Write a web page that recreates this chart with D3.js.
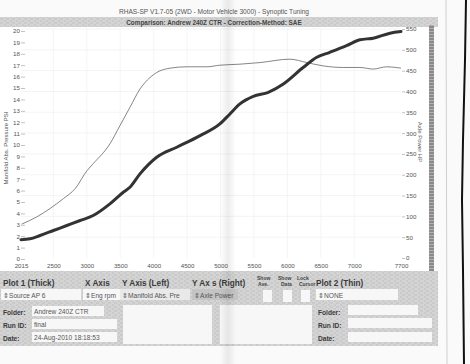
<!DOCTYPE html>
<html>
<head>
<meta charset="utf-8">
<script src="https://cdn.jsdelivr.net/npm/d3@7"></script>
<style>
  body { margin: 0; background: #fafafa; }
  svg { display: block; font-family: "Liberation Sans", Arial, sans-serif; }
</style>
</head>
<body>
<div id="chart"></div>
<script>
// Plot 2 line (thin) - manifold abs. pressure, left axis
const rpmThin = [2025, 2250, 2450, 2650, 2825, 3005, 3095, 3345, 3495, 3645, 3795, 3945, 4045, 4245, 4495, 4795, 4990, 5290, 5590, 6040, 6290, 6535, 6835, 7085, 7285, 7485, 7700];
const psiThin = [3.06, 3.69, 4.43, 5.30, 6.17, 7.77, 8.36, 10.10, 11.70, 13.30, 14.91, 15.92, 16.36, 16.74, 16.86, 16.86, 17.00, 17.09, 17.23, 17.53, 17.23, 16.94, 16.80, 16.80, 16.66, 16.86, 16.74];

// thick line - axle power, right axis
const rpmThick = [2015, 2150, 2300, 2500, 2700, 2900, 3095, 3345, 3545, 3645, 3795, 4045, 4345, 4695, 4990, 5140, 5290, 5490, 5715, 5940, 6240, 6440, 6635, 6885, 7085, 7285, 7535, 7700];
const hpThick = [44, 46, 54, 66, 78, 90, 102, 130, 158, 170, 202, 242, 266, 294, 322, 346, 370, 388, 398, 418, 458, 482, 494, 510, 524, 528, 540, 544];

const xTicks = [2015, 2500, 3000, 3500, 4000, 4500, 5000, 5500, 6000, 6500, 7000, 7700];
const leftTicks = [0, 1, 2, 3, 4, 5, 6, 7, 8, 9, 10, 11, 12, 13, 14, 15, 16, 17, 18, 19, 20];
const rightTicks = [0, 50, 100, 150, 200, 250, 300, 350, 400, 450, 500, 550];

const W = 470, H = 364;
const svg = d3.select("#chart").append("svg")
  .attr("width", W)
  .attr("height", H);

// scanned paper texture
let defs = svg.append("defs");
let hatch = defs.append("pattern")
  .attr("id", "hatch")
  .attr("width", 6).attr("height", 4)
  .attr("patternUnits", "userSpaceOnUse");
hatch.append("rect").attr("width", 6).attr("height", 4).attr("fill", "#cacaca");
hatch.append("path").attr("d", "M0,1 L4,1 M3,3 L6,3").attr("stroke", "#dedede").attr("stroke-width", 1);

let stripes = defs.append("pattern")
  .attr("id", "stripes")
  .attr("width", 5).attr("height", 3)
  .attr("patternUnits", "userSpaceOnUse");
stripes.append("rect").attr("width", 5).attr("height", 3).attr("fill", "#8a8a8a");
stripes.append("path").attr("d", "M0,1.5 L5,1.5").attr("stroke", "#b0b0b0").attr("stroke-width", 1);

// paper fold down the middle
let fold = defs.append("linearGradient").attr("id", "fold");
fold.append("stop").attr("offset", "0%").attr("stop-color", "#000").attr("stop-opacity", 0);
fold.append("stop").attr("offset", "50%").attr("stop-color", "#000").attr("stop-opacity", 0.07);
fold.append("stop").attr("offset", "100%").attr("stop-color", "#000").attr("stop-opacity", 0);

svg.append("rect").attr("width", W).attr("height", H).attr("fill", "#fafafa");
svg.append("rect").attr("x", 0).attr("y", 27).attr("width", 429).attr("height", 244).attr("fill", "#ffffff");

// title
svg.append("text")
  .attr("x", 214).attr("y", 14)
  .attr("text-anchor", "middle")
  .attr("font-size", 6.6)
  .attr("fill", "#555")
  .text("RHAS-SP V1.7-05   (2WD - Motor Vehicle 3000) - Synoptic Tuning");

svg.append("rect").attr("x", 0).attr("y", 17).attr("width", 438).attr("height", 10).attr("fill", "url(#hatch)");
svg.append("text")
  .attr("x", 214).attr("y", 24.5)
  .attr("text-anchor", "middle")
  .attr("font-size", 6.4)
  .attr("font-weight", "bold")
  .attr("fill", "#444")
  .text("Comparison: Andrew 240Z CTR  -  Correction-Method: SAE");

// scales
let x = d3.scaleLinear().domain([2015, 7700]).range([21, 401]);
let yLeft = d3.scaleLinear().domain([0, 20]).range([259, 31]);
let yRight = d3.scaleLinear().domain([0, 550]).range([258, 29]);

// faint grid
svg.append("g").selectAll("line").data(rightTicks.slice(1)).enter().append("line")
  .attr("x1", 21).attr("x2", 401)
  .attr("y1", d => yRight(d)).attr("y2", d => yRight(d))
  .attr("stroke", "#ececec").attr("stroke-width", 0.6);
svg.append("g").selectAll("line").data(xTicks.slice(1, -1)).enter().append("line")
  .attr("x1", d => x(d)).attr("x2", d => x(d))
  .attr("y1", 29).attr("y2", 258)
  .attr("stroke", "#efefef").attr("stroke-width", 0.6);

// axes
let axL = svg.append("g")
  .attr("transform", "translate(21,0)")
  .call(d3.axisLeft(yLeft).tickValues(leftTicks).tickSizeInner(-4).tickSizeOuter(0).tickPadding(1));
let axR = svg.append("g")
  .attr("transform", "translate(405,0)")
  .call(d3.axisRight(yRight).tickValues(rightTicks).tickSizeInner(-3).tickSizeOuter(0).tickPadding(1));
let axX = svg.append("g")
  .attr("transform", "translate(0,259.5)")
  .call(d3.axisBottom(x).tickValues(xTicks).tickFormat(d3.format("d")).tickSize(0).tickPadding(4));

[axL, axR, axX].forEach(ax => {
  ax.select(".domain").remove();
  ax.selectAll("line").attr("stroke", "#999").attr("stroke-width", 0.6);
  ax.selectAll("text").attr("font-size", 6.2).attr("fill", "#555").attr("font-family", "Liberation Sans, Arial, sans-serif");
});

svg.append("text")
  .attr("transform", "translate(8,148) rotate(-90)")
  .attr("text-anchor", "middle")
  .attr("font-size", 6)
  .attr("fill", "#555")
  .text("Manifold Abs. Pressure PSI");
svg.append("text")
  .attr("transform", "translate(418,142) rotate(90)")
  .attr("text-anchor", "middle")
  .attr("font-size", 6)
  .attr("fill", "#555")
  .text("Axle Power HP");

// right scroll bar
svg.append("rect").attr("x", 429).attr("y", 25).attr("width", 5).attr("height", 246).attr("fill", "url(#stripes)");

// lines
let lineThin = d3.line()
  .x((d, i) => x(rpmThin[i]))
  .y(d => yLeft(d))
  .curve(d3.curveMonotoneX);
let lineThick = d3.line()
  .x((d, i) => x(rpmThick[i]))
  .y(d => yRight(d))
  .curve(d3.curveMonotoneX);

svg.append("path")
  .datum(psiThin)
  .attr("d", lineThin)
  .attr("fill", "none")
  .attr("stroke", "#666")
  .attr("stroke-width", 0.8);
svg.append("path")
  .datum(hpThick)
  .attr("d", lineThick)
  .attr("fill", "none")
  .attr("stroke", "#333")
  .attr("stroke-width", 3)
  .attr("stroke-linejoin", "round")
  .attr("stroke-linecap", "round");

// bottom control panel
let panel = svg.append("g");
panel.append("rect").attr("x", 0).attr("y", 271).attr("width", 438).attr("height", 75).attr("fill", "url(#hatch)");

function bold(tx, ty, s, size) {
  panel.append("text").attr("x", tx).attr("y", ty)
    .attr("font-size", size || 8.2).attr("font-weight", "bold").attr("fill", "#3a3a3a").text(s);
}
function box(bx, by, bw, bh, s, fill) {
  panel.append("rect").attr("x", bx).attr("y", by).attr("width", bw).attr("height", bh).attr("fill", fill || "#f7f7f7");
  if (s) panel.append("text").attr("x", bx + 2).attr("y", by + bh - 2.5)
    .attr("font-size", 6.6).attr("fill", "#555").text(s);
}

bold(3, 286, "Plot 1 (Thick)");
bold(85, 286, "X Axis");
bold(122, 286, "Y Axis (Left)");
bold(192, 286, "Y Ax s (Right)");
bold(316, 286, "Plot 2 (Thin)");
[["Show", 257, 280], ["Show", 278, 280], ["Lock", 297, 280], ["Ave.", 258, 286], ["Data", 281, 286], ["Cursor", 299, 286]]
  .forEach(t => panel.append("text").attr("x", t[1]).attr("y", t[2]).attr("font-size", 5).attr("font-weight", "bold").attr("fill", "#444").text(t[0]));

box(1, 289, 80, 11, "\u21D5Source AP 6");
box(83, 289, 37, 11, "\u21D5Eng rpm");
box(120, 289, 70, 11, "\u21D5Manifold Abs. Pre", "#e9e9e9");
box(192, 289, 46, 11, "\u21D5Axle Power", "#c4c4c4");
box(263, 290, 9, 12, "");
box(283, 290, 9, 12, "");
box(301, 290, 9, 12, "");
box(316, 289, 82, 11, "\u21D5NONE");

bold(3, 315, "Folder:", 6.6);
bold(3, 328, "Run ID:", 6.6);
bold(3, 341, "Date:", 6.6);
box(32, 306, 72, 10, "Andrew 240Z CTR");
box(32, 319, 85, 10, "final");
box(32, 332, 85, 10, "24-Aug-2010  18:18:53");
box(123, 305, 89, 39, "");
box(220, 305, 92, 39, "");

bold(318, 315, "Folder:", 6.6);
bold(318, 328, "Run ID:", 6.6);
bold(318, 341, "Date:", 6.6);
box(348, 305, 70, 10, "");
box(348, 318, 84, 10, "");
box(348, 332, 84, 10, "");

svg.append("rect").attr("x", 220).attr("y", 0).attr("width", 16).attr("height", H).attr("fill", "url(#fold)");

// page edge and scanner edge
svg.append("line").attr("x1", 446).attr("x2", 447).attr("y1", 0).attr("y2", H).attr("stroke", "#cfcfcf").attr("stroke-width", 1);
svg.append("path")
  .attr("d", "M466,0 L465,60 L463,140 L462,200 L463,270 L464,364")
  .attr("fill", "none").attr("stroke", "#111").attr("stroke-width", 2);
</script>
</body>
</html>
